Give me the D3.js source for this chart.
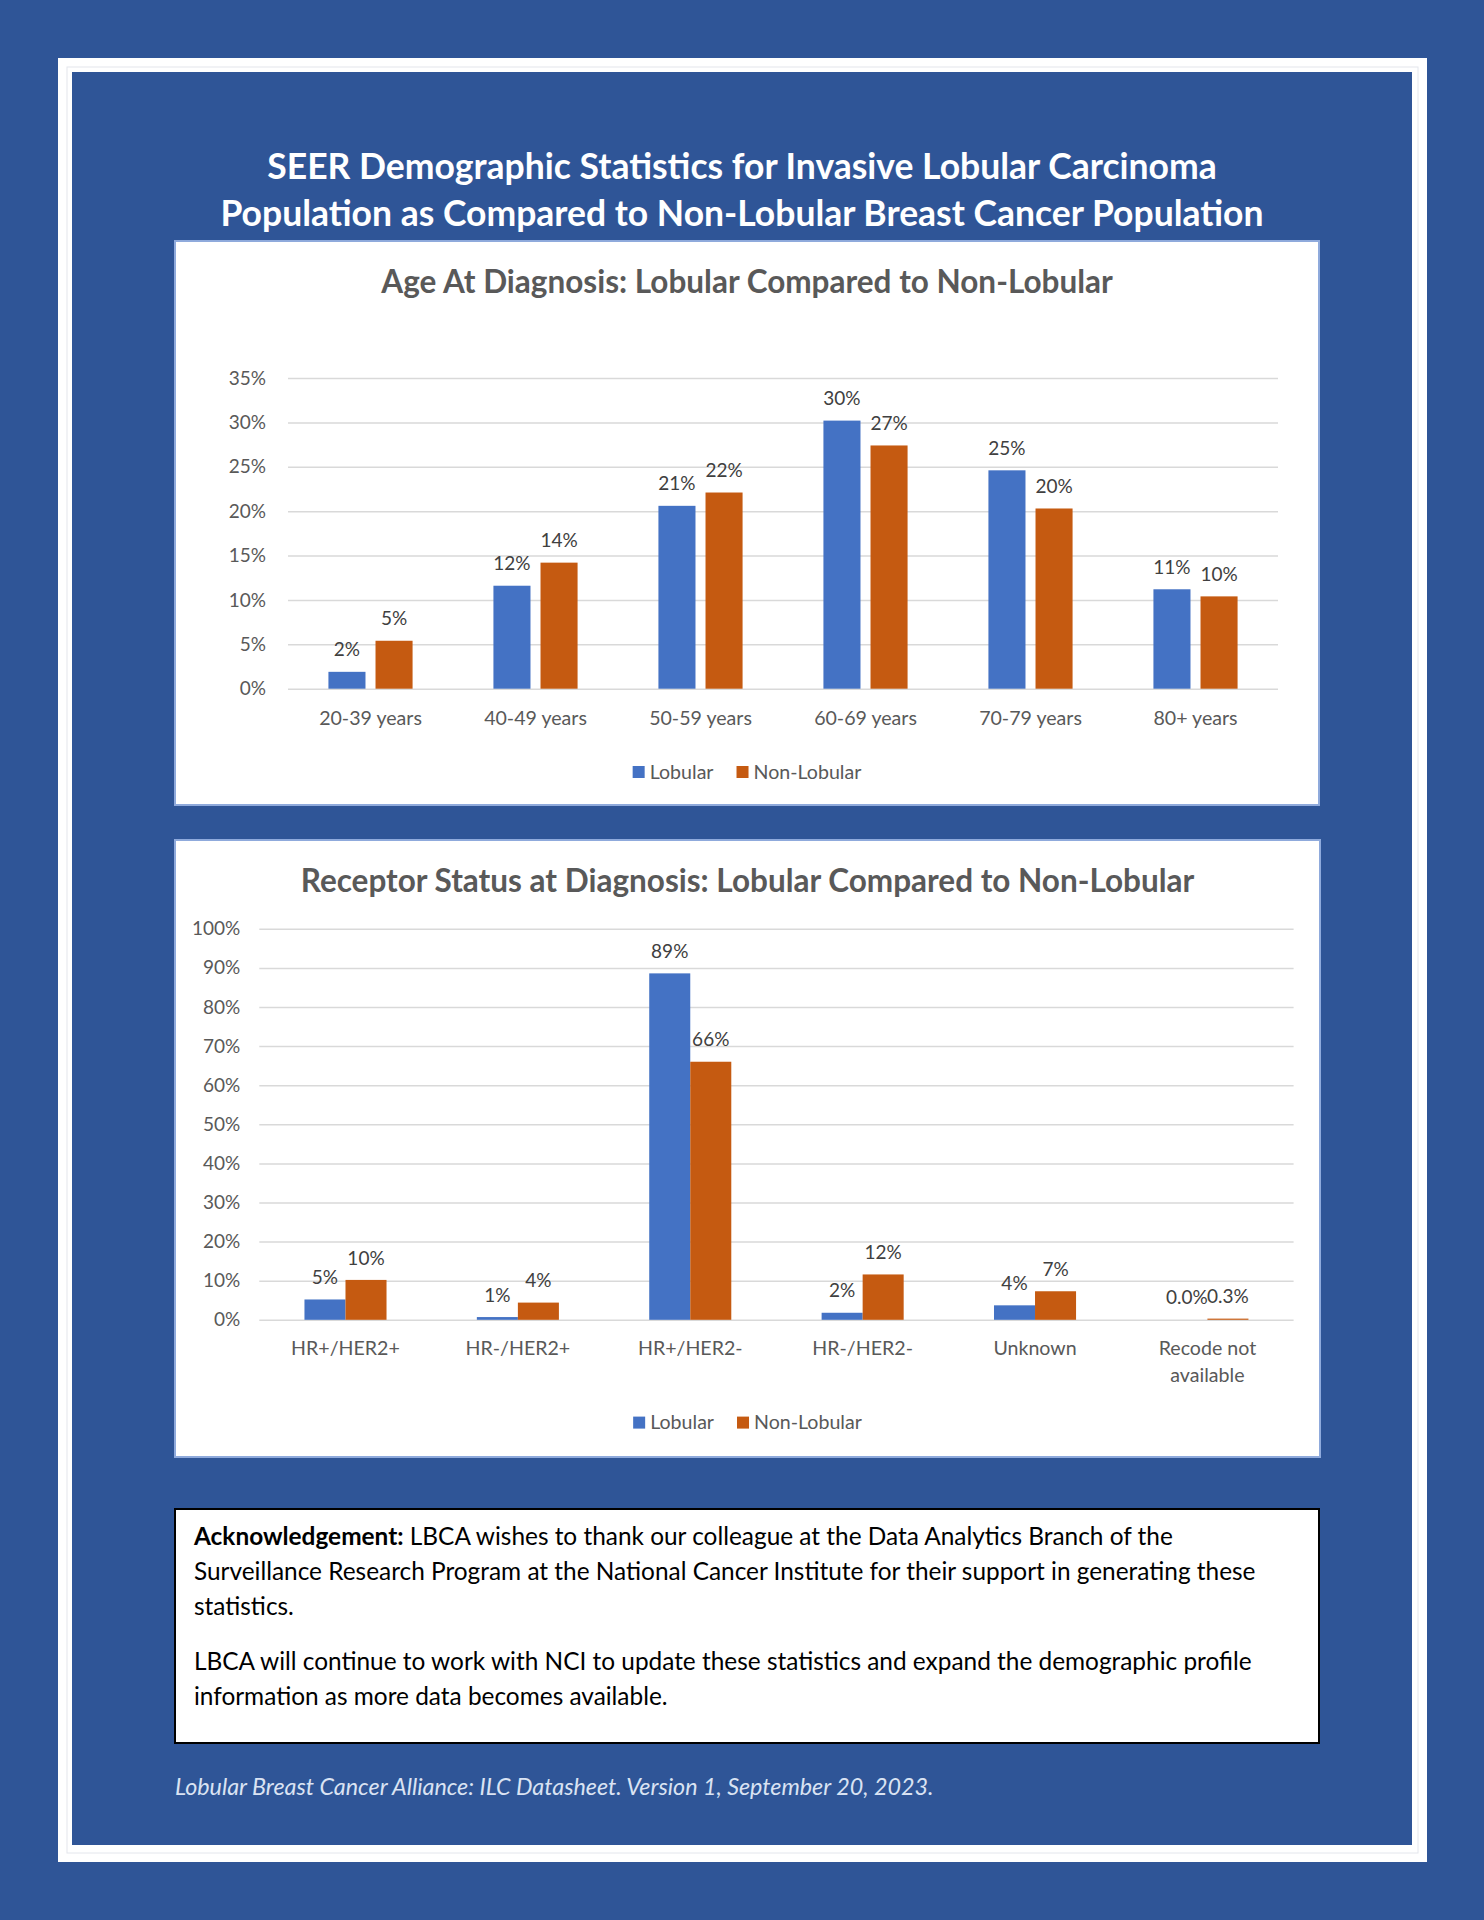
<!DOCTYPE html>
<html>
<head>
<meta charset="utf-8">
<script src="https://cdn.jsdelivr.net/npm/d3@7"></script>
<style>
  body { margin: 0; background: #2F5597; }
  svg { display: block; font-family: Lato, "Open Sans", sans-serif; }
</style>
</head>
<body>
<div id="page"></div>
<script>
// ---- data ----
var seriesNames = ["Lobular", "Non-Lobular"];
var seriesColors = ["#4472C4", "#C55A11"];

var ageCategories = ["20-39 years", "40-49 years", "50-59 years", "60-69 years", "70-79 years", "80+ years"];
var ageLobular = [1.9, 11.6, 20.6, 30.2, 24.6, 11.2];
var ageNonLobular = [5.4, 14.2, 22.1, 27.4, 20.3, 10.4];
var ageTicks = [0, 5, 10, 15, 20, 25, 30, 35];

var receptorCategories = ["HR+/HER2+", "HR-/HER2+", "HR+/HER2-", "HR-/HER2-", "Unknown", "Recode not available"];
var receptorLobular = [5.2, 0.7, 88.6, 1.8, 3.7, 0.0];
var receptorNonLobular = [10.2, 4.4, 66.0, 11.6, 7.3, 0.3];
var receptorDecimals = [0, 0, 0, 0, 0, 1];
var receptorTicks = [0, 10, 20, 30, 40, 50, 60, 70, 80, 90, 100];

var pageTitle = [
  "SEER Demographic Statistics for Invasive Lobular Carcinoma",
  "Population as Compared to Non-Lobular Breast Cancer Population"
];
var ageTitle = "Age At Diagnosis: Lobular Compared to Non-Lobular";
var receptorTitle = "Receptor Status at Diagnosis: Lobular Compared to Non-Lobular";

var ackLines = [
  ["Acknowledgement:", " LBCA wishes to thank our colleague at the Data Analytics Branch of the"],
  ["", "Surveillance Research Program at the National Cancer Institute for their support in generating these"],
  ["", "statistics."],
  ["", "LBCA will continue to work with NCI to update these statistics and expand the demographic profile"],
  ["", "information as more data becomes available."]
];
var footerText = "Lobular Breast Cancer Alliance: ILC Datasheet. Version 1, September 20, 2023.";

// ---- page ----
var W = 1484, H = 1920;
var textGrey = "#595959";
var fs = 19.6;

var svg = d3.select("#page").append("svg")
  .attr("width", W)
  .attr("height", H);

svg.append("rect").attr("width", W).attr("height", H).attr("fill", "#2F5597");

// white frame
svg.append("rect")
  .attr("x", 58).attr("y", 58).attr("width", 1369).attr("height", 1804)
  .attr("fill", "#ffffff");
svg.append("rect")
  .attr("x", 67).attr("y", 67).attr("width", 1351).attr("height", 1786)
  .attr("fill", "none").attr("stroke", "#e3e6ec").attr("stroke-width", 1);
svg.append("rect")
  .attr("x", 72).attr("y", 72).attr("width", 1340).attr("height", 1773)
  .attr("fill", "#2F5597");

svg.append("g").selectAll("text")
  .data(pageTitle)
  .enter().append("text")
  .attr("x", 742)
  .attr("y", function (d, i) { return 166.7 + i * 46.6; })
  .attr("dy", "0.35em")
  .attr("text-anchor", "middle")
  .attr("fill", "#ffffff")
  .style("font-weight", "bold")
  .style("font-size", "35.5px")
  .text(function (d) { return d; });

function wrap(textSel, width) {
  textSel.each(function () {
    var text = d3.select(this),
      words = text.text().split(/\s+/),
      y = text.attr("y"),
      dy = parseFloat(text.attr("dy")),
      line = [],
      lineNo = 0,
      tspan = text.text(null).append("tspan").attr("x", 0).attr("y", y).attr("dy", dy + "em");
    words.forEach(function (w) {
      line.push(w);
      tspan.text(line.join(" "));
      if (tspan.node().getComputedTextLength() > width && line.length > 1) {
        line.pop();
        tspan.text(line.join(" "));
        line = [w];
        lineNo++;
        tspan = text.append("tspan").attr("x", 0).attr("y", y)
          .attr("dy", (dy + lineNo * 1.38) + "em").text(w);
      }
    });
  });
}

function barChart(cfg) {
  var g = svg.append("g");
  var p = cfg.panel;

  g.append("rect")
    .attr("x", p[0]).attr("y", p[1])
    .attr("width", p[2] - p[0]).attr("height", p[3] - p[1])
    .attr("fill", "#ffffff")
    .attr("stroke", "#8FAADC")
    .attr("stroke-width", 2);

  var cx = (p[0] + p[2]) / 2;

  g.append("text")
    .attr("x", cx).attr("y", cfg.titleY).attr("dy", "0.35em")
    .attr("text-anchor", "middle")
    .attr("fill", textGrey)
    .style("font-weight", "bold")
    .style("font-size", "31.5px")
    .text(cfg.title);

  var y = d3.scaleLinear().domain([0, cfg.yMax]).range(cfg.yRange);
  var x = d3.scaleBand().domain(cfg.categories).range(cfg.xRange)
    .paddingInner(cfg.bandPadding).paddingOuter(cfg.bandPadding / 2);
  var xs = d3.scaleBand().domain(seriesNames).range([0, x.bandwidth()])
    .paddingInner(cfg.innerPadding);

  var plotW = cfg.xRange[1] - cfg.xRange[0];

  // y axis with gridlines
  var yAxis = g.append("g")
    .attr("transform", "translate(" + cfg.xRange[0] + ",0)")
    .call(d3.axisLeft(y).tickValues(cfg.ticks)
      .tickSize(-plotW).tickPadding(cfg.yPad)
      .tickFormat(function (d) { return d + "%"; }));
  yAxis.select(".domain").remove();
  yAxis.selectAll(".tick line").attr("stroke", "#D9D9D9").attr("stroke-width", 1.5);
  yAxis.selectAll(".tick text").attr("fill", textGrey)
    .style("font-size", "19px").style("font-family", "Lato, sans-serif");

  // x axis labels
  var xAxis = g.append("g")
    .attr("transform", "translate(0," + cfg.yRange[0] + ")")
    .call(d3.axisBottom(x).tickSize(0).tickPadding(cfg.xPad));
  xAxis.select(".domain").remove();
  xAxis.selectAll(".tick text").attr("fill", textGrey)
    .style("font-size", fs + "px").style("font-family", "Lato, sans-serif")
    .call(wrap, x.step() - 35);

  // bars
  var rows = cfg.categories.map(function (c, i) {
    return { cat: c, i: i, values: [cfg.series[0][i], cfg.series[1][i]] };
  });

  var groups = g.append("g").selectAll("g")
    .data(rows)
    .enter().append("g")
    .attr("transform", function (d) { return "translate(" + x(d.cat) + ",0)"; });

  var cells = groups.selectAll("g")
    .data(function (d) {
      return d.values.map(function (v, k) { return { name: seriesNames[k], k: k, v: v, i: d.i }; });
    })
    .enter().append("g");

  cells.append("rect")
    .attr("x", function (d) { return xs(d.name); })
    .attr("y", function (d) { return y(d.v); })
    .attr("width", xs.bandwidth())
    .attr("height", function (d) { return cfg.yRange[0] - y(d.v); })
    .attr("fill", function (d) { return seriesColors[d.k]; });

  cells.append("text")
    .attr("x", function (d) { return xs(d.name) + xs.bandwidth() / 2; })
    .attr("y", function (d) { return y(d.v) - 22; })
    .attr("dy", "0.35em")
    .attr("text-anchor", "middle")
    .attr("fill", "#404040")
    .style("font-size", "19px")
    .text(function (d) { return d3.format("." + cfg.decimals[d.i] + "f")(d.v) + "%"; });

  // legend
  var leg = g.append("g").attr("transform", "translate(0," + cfg.legendY + ")");
  var items = leg.selectAll("g").data(seriesNames).enter().append("g");
  items.append("rect")
    .attr("y", -6).attr("width", 12).attr("height", 12)
    .attr("fill", function (d, k) { return seriesColors[k]; });
  items.append("text")
    .attr("x", 17).attr("dy", "0.35em")
    .attr("fill", textGrey)
    .style("font-size", fs + "px")
    .text(function (d) { return d; });
  var offs = [], total = 0;
  items.each(function () {
    var w = 17 + d3.select(this).select("text").node().getComputedTextLength();
    offs.push(total);
    total += w + 23;
  });
  total -= 23;
  items.attr("transform", function (d, k) { return "translate(" + (cx - total / 2 + offs[k]) + ",0)"; });
}

barChart({
  panel: [175, 241, 1319, 805],
  title: ageTitle,
  titleY: 282,
  categories: ageCategories,
  series: [ageLobular, ageNonLobular],
  decimals: ageCategories.map(function () { return 0; }),
  ticks: ageTicks,
  yMax: 35,
  yRange: [688.7, 378],
  xRange: [288, 1278],
  bandPadding: 0.49,
  innerPadding: 0.213,
  yPad: 22,
  xPad: 22,
  legendY: 772
});

barChart({
  panel: [175, 840, 1320, 1457],
  title: receptorTitle,
  titleY: 881,
  categories: receptorCategories,
  series: [receptorLobular, receptorNonLobular],
  decimals: receptorDecimals,
  ticks: receptorTicks,
  yMax: 100,
  yRange: [1319.8, 928.8],
  xRange: [259.3, 1293.6],
  bandPadding: 0.524,
  innerPadding: 0,
  yPad: 19,
  xPad: 21,
  legendY: 1422.6
});

// acknowledgement box
svg.append("rect")
  .attr("x", 175).attr("y", 1509).attr("width", 1144).attr("height", 234)
  .attr("fill", "#ffffff").attr("stroke", "#000000").attr("stroke-width", 2);

var ackY = [1536.7, 1571.7, 1606.7, 1661.7, 1696.7];
var ack = svg.append("g").selectAll("text")
  .data(ackLines)
  .enter().append("text")
  .attr("x", 194)
  .attr("y", function (d, i) { return ackY[i]; })
  .attr("dy", "0.35em")
  .attr("fill", "#000000")
  .style("font-size", "24.4px");
ack.append("tspan").style("font-weight", "bold").text(function (d) { return d[0]; });
ack.append("tspan").text(function (d) { return d[1]; });

svg.append("text")
  .attr("x", 175).attr("y", 1787).attr("dy", "0.35em")
  .attr("fill", "#DAE3F3")
  .style("font-style", "italic")
  .style("font-size", "23.3px")
  .text(footerText);
</script>
</body>
</html>
